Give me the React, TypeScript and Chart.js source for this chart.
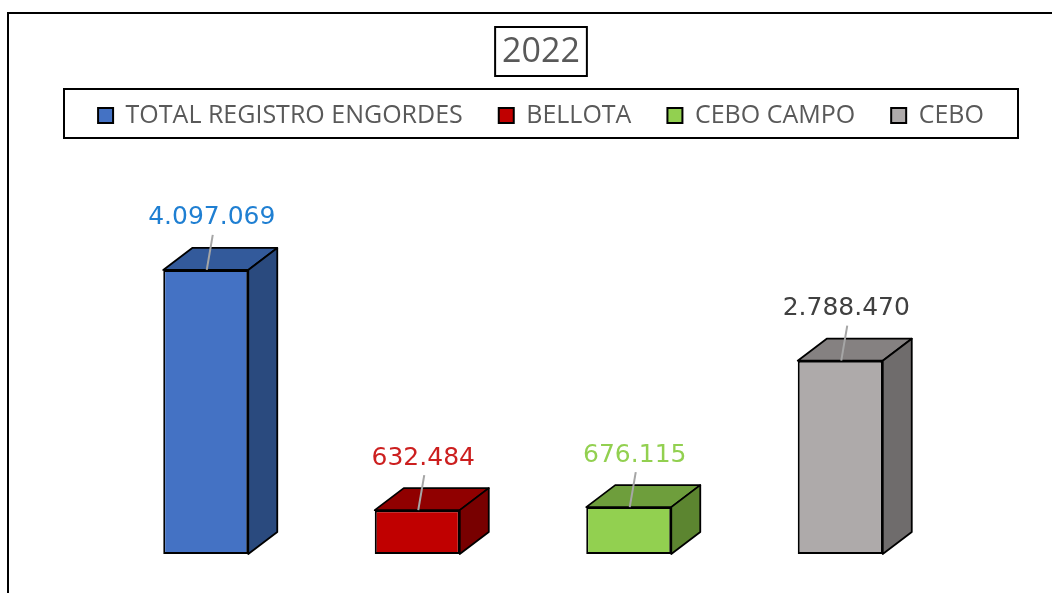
import React, { useEffect, useRef } from 'react';
import { Chart, registerables } from 'chart.js';

Chart.register(...registerables);

// ---- data ----
const categories = ['2022'];
const seriesNames = ['TOTAL REGISTRO ENGORDES', 'BELLOTA', 'CEBO CAMPO', 'CEBO'];
const seriesValues = [4097069, 632484, 676115, 2788470];
const yMax = 6000000;

// ---- styles ----
const frontColors = ['#4472C4', '#C00000', '#92D050', '#AEAAAA'];
const topColors = ['#335A9B', '#900000', '#6E9E3C', '#858181'];
const sideColors = ['#2A4A7E', '#780000', '#5C8530', '#6F6C6C'];
const labelColors = ['#1F7FD2', '#CC1F1F', '#92D050', '#404040'];

const CW = 1064;
const CH = 600;
const DX = 29;
const DY = 22;

const fmt = (v: number) => String(Math.round(v)).replace(/\B(?=(\d{3})+(?!\d))/g, '.');

const bar3d = {
  id: 'bar3d',
  afterDatasetsDraw(chart: any) {
    const ctx = chart.ctx as CanvasRenderingContext2D;
    chart.data.datasets.forEach((ds: any, i: number) => {
      const meta = chart.getDatasetMeta(i);
      meta.data.forEach((el: any, j: number) => {
        const { x, y, base, width } = el.getProps(['x', 'y', 'base', 'width'], true);
        const L = x - width / 2;
        const R = x + width / 2;
        ctx.save();
        ctx.lineWidth = 1.8;
        ctx.strokeStyle = '#000';
        ctx.lineJoin = 'round';
        // top face
        ctx.beginPath();
        ctx.moveTo(L, y);
        ctx.lineTo(L + DX, y - DY);
        ctx.lineTo(R + DX, y - DY);
        ctx.lineTo(R, y);
        ctx.closePath();
        ctx.fillStyle = topColors[i];
        ctx.fill();
        ctx.stroke();
        // side face
        ctx.beginPath();
        ctx.moveTo(R, y);
        ctx.lineTo(R + DX, y - DY);
        ctx.lineTo(R + DX, base - DY);
        ctx.lineTo(R, base);
        ctx.closePath();
        ctx.fillStyle = sideColors[i];
        ctx.fill();
        ctx.stroke();
        // leader line
        ctx.beginPath();
        ctx.strokeStyle = '#A6A6A6';
        ctx.lineWidth = 2;
        ctx.moveTo(x + 7, y - 35);
        ctx.lineTo(x + 1, y);
        ctx.stroke();
        // value label
        ctx.font = '25px "DejaVu Sans"';
        ctx.fillStyle = labelColors[i];
        ctx.textAlign = 'center';
        ctx.textBaseline = 'middle';
        ctx.fillText(fmt(ds.data[j]), x + 6, y - 52);
        ctx.restore();
      });
    });
  },
};

const decorations = {
  id: 'decorations',
  beforeDraw(chart: any) {
    const ctx = chart.ctx as CanvasRenderingContext2D;
    ctx.save();
    ctx.fillStyle = '#fff';
    ctx.fillRect(0, 0, chart.width, chart.height);
    ctx.restore();
  },
  afterDraw(chart: any) {
    const ctx = chart.ctx as CanvasRenderingContext2D;
    ctx.save();
    ctx.strokeStyle = '#000';
    ctx.lineWidth = 2;
    // outer frame
    ctx.strokeRect(1, 1, chart.width - 2, chart.height - 2);
    // title box
    const tb = chart.titleBlock;
    ctx.font = '34px "Open Sans"';
    const tw = ctx.measureText(categories[0]).width;
    const cx = (tb.left + tb.right) / 2;
    ctx.strokeRect(cx - tw / 2 - 7, 15, tw + 14, 49);
    // legend box
    const hb = chart.legend.legendHitBoxes;
    if (hb && hb.length) {
      const first = hb[0];
      const last = hb[hb.length - 1];
      const mid = (first.left + last.left + last.width) / 2;
      const top = first.top - 14;
      ctx.strokeRect(mid - 477, top, 954, 49);
    }
    ctx.restore();
  },
};

export default function App() {
  const ref = useRef<HTMLCanvasElement>(null);
  useEffect(() => {
    document.body.style.margin = '0';
    const chart = new Chart(ref.current as HTMLCanvasElement, {
      type: 'bar',
      data: {
        labels: categories,
        datasets: seriesNames.map((name, i) => ({
          label: name,
          data: [seriesValues[i]],
          backgroundColor: frontColors[i],
          borderColor: '#000',
          borderWidth: 2,
          borderSkipped: false,
          categoryPercentage: 1,
          barPercentage: 0.402,
        })),
      },
      options: {
        responsive: false,
        animation: false,
        devicePixelRatio: 1,
        layout: { padding: { left: 4, right: 0, top: 0, bottom: 58 } },
        scales: {
          x: { display: false },
          y: {
            position: 'right',
            min: 0,
            max: yMax,
            ticks: { display: false },
            grid: { display: false },
            border: { display: false },
            afterFit: (s: any) => {
              s.width = 125;
            },
          },
          yLeft: {
            position: 'left',
            min: 0,
            max: 1,
            ticks: { display: false },
            grid: { display: false },
            border: { display: false },
            afterFit: (s: any) => {
              s.width = 89;
            },
          },
        },
        plugins: {
          tooltip: { enabled: false },
          title: {
            display: true,
            text: categories[0],
            color: '#595959',
            font: { family: 'Open Sans', size: 34, weight: 'normal', lineHeight: 1 },
            padding: { top: 23, bottom: -2 },
          },
          legend: {
            display: true,
            position: 'top',
            labels: {
              color: '#595959',
              font: { family: 'Open Sans', size: 25 },
              boxWidth: 15,
              boxHeight: 15,
              padding: 36,
            },
          },
        },
      } as any,
      plugins: [bar3d, decorations],
    });
    return () => chart.destroy();
  }, []);
  return (
    <div
      style={{
        position: 'fixed',
        left: 0,
        top: 0,
        width: 1052,
        height: 593,
        overflow: 'hidden',
        background: '#fff',
      }}
    >
      <canvas
        ref={ref}
        width={CW}
        height={CH}
        style={{ position: 'absolute', left: 7, top: 12, width: CW, height: CH }}
      />
    </div>
  );
}
